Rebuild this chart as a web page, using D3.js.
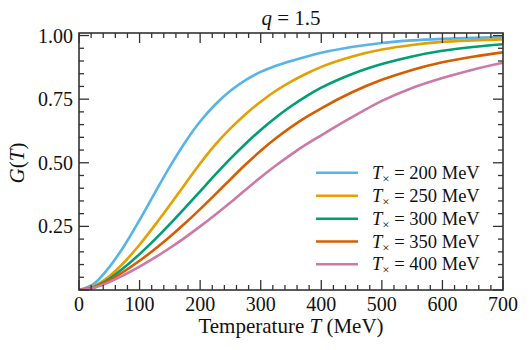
<!DOCTYPE html>
<html><head><meta charset="utf-8">
<script src="https://cdn.jsdelivr.net/npm/d3@7"></script>
<style>
body{margin:0;background:#fff;}
svg{display:block;font-family:"Liberation Serif","DejaVu Serif",serif;}
</style></head>
<body><svg id="c" width="529" height="350"></svg>
<script>
const temps = [0,25,50,75,100,125,150,175,200,225,250,275,300,325,350,375,400,450,500,550,600,650,700];
const g200 = [0,0.025,0.09,0.175,0.275,0.381,0.485,0.58,0.662,0.729,0.783,0.825,0.857,0.881,0.9,0.917,0.932,0.955,0.971,0.981,0.987,0.991,0.994];
const g250 = [0,0.016,0.054,0.11,0.178,0.254,0.334,0.416,0.497,0.571,0.635,0.691,0.74,0.783,0.819,0.85,0.877,0.917,0.945,0.963,0.975,0.981,0.985];
const g300 = [0,0.012,0.044,0.089,0.141,0.198,0.259,0.323,0.388,0.453,0.516,0.575,0.629,0.678,0.722,0.761,0.795,0.848,0.888,0.918,0.94,0.955,0.966];
const g350 = [0,0.01,0.038,0.074,0.115,0.16,0.209,0.262,0.318,0.376,0.435,0.493,0.547,0.596,0.64,0.679,0.714,0.776,0.826,0.865,0.895,0.917,0.934];
const g400 = [0,0.009,0.031,0.06,0.092,0.127,0.165,0.206,0.25,0.296,0.344,0.394,0.443,0.489,0.532,0.572,0.608,0.678,0.743,0.794,0.833,0.866,0.893];
const seriesNames = ["200","250","300","350","400"];
const seriesValues = [g200,g250,g300,g350,g400];
const colors = ["#56B4E9","#E69F00","#009E73","#D55E00","#CC79A7"];
const xTicks = [0,100,200,300,400,500,600,700];
const yTicks = [0.25,0.5,0.75,1.0];

const L=79,R=503,T=33,B=290;
const svg=d3.select("#c");
const x=d3.scaleLinear().domain([0,700]).range([L,R]);
const y=d3.scaleLinear().domain([0,1.01]).range([B,T]);
const axisCol="#333";

// curves
const line=d3.line().x((d,i)=>x(temps[i])).y(d=>y(d)).curve(d3.curveMonotoneX);
svg.append("clipPath").attr("id","cl").append("rect").attr("x",L).attr("y",T).attr("width",R-L).attr("height",B-T);
seriesValues.forEach((vals,k)=>{
  svg.append("path").attr("d",line(vals)).attr("fill","none").attr("stroke",colors[k]).attr("stroke-width",2.6).attr("clip-path","url(#cl)");
});

// ticks
const xMinor=d3.range(0,701,20).filter(v=>v%100!==0);
const yMinor=d3.range(0,101,5).map(v=>v/100).filter(v=>Math.round(v*100)%25!==0);
const tg=svg.append("g").attr("stroke",axisCol).attr("stroke-width",1.3);
xTicks.forEach(v=>{
  tg.append("line").attr("x1",x(v)).attr("x2",x(v)).attr("y1",B).attr("y2",B-10);
  tg.append("line").attr("x1",x(v)).attr("x2",x(v)).attr("y1",T).attr("y2",T+10);
});
xMinor.forEach(v=>{
  tg.append("line").attr("x1",x(v)).attr("x2",x(v)).attr("y1",B).attr("y2",B-5);
  tg.append("line").attr("x1",x(v)).attr("x2",x(v)).attr("y1",T).attr("y2",T+5);
});
[0].concat(yTicks).forEach(v=>{
  tg.append("line").attr("x1",L).attr("x2",L+10).attr("y1",y(v)).attr("y2",y(v));
  tg.append("line").attr("x1",R).attr("x2",R-10).attr("y1",y(v)).attr("y2",y(v));
});
yMinor.forEach(v=>{
  tg.append("line").attr("x1",L).attr("x2",L+5).attr("y1",y(v)).attr("y2",y(v));
  tg.append("line").attr("x1",R).attr("x2",R-5).attr("y1",y(v)).attr("y2",y(v));
});
svg.append("rect").attr("x",L).attr("y",T).attr("width",R-L).attr("height",B-T).attr("fill","none").attr("stroke",axisCol).attr("stroke-width",1.6);

// tick labels
xTicks.forEach(v=>{
  svg.append("text").attr("x",x(v)).attr("y",B+21).attr("text-anchor","middle").attr("font-size",20).attr("fill","#111").text(v);
});
yTicks.forEach(v=>{
  svg.append("text").attr("x",L-6).attr("y",y(v)+7).attr("text-anchor","end").attr("font-size",20).attr("fill","#111").text(d3.format(".2f")(v));
});

// axis titles
const xt=svg.append("text").attr("x",(L+R)/2).attr("y",333).attr("text-anchor","middle").attr("font-size",21).attr("fill","#111");
xt.append("tspan").text("Temperature ");
xt.append("tspan").attr("font-style","italic").text("T");
xt.append("tspan").text(" (MeV)");

const yt=svg.append("text").attr("transform","translate(24,163) rotate(-90)").attr("text-anchor","middle").attr("font-size",21).attr("fill","#111");
yt.append("tspan").attr("font-style","italic").text("G");
yt.append("tspan").text("(");
yt.append("tspan").attr("font-style","italic").text("T");
yt.append("tspan").text(")");

// title
const tt=svg.append("text").attr("x",(L+R)/2).attr("y",25).attr("text-anchor","middle").attr("font-size",21).attr("fill","#111");
tt.append("tspan").attr("font-style","italic").text("q");
tt.append("tspan").text(" = 1.5");

// legend
const rowY=[172.7,195.7,218.7,241.5,264.3];
seriesNames.forEach((n,k)=>{
  svg.append("line").attr("x1",316).attr("x2",358).attr("y1",rowY[k]).attr("y2",rowY[k]).attr("stroke",colors[k]).attr("stroke-width",2.6);
  const t=svg.append("text").attr("x",372).attr("y",rowY[k]+6).attr("font-size",18.5).attr("fill","#111");
  t.append("tspan").attr("font-style","italic").text("T");
  t.append("tspan").attr("font-size",13).attr("dy",4).text("×");
  t.append("tspan").attr("dy",-4).text(" = "+n+" MeV");
});
</script></body></html>
